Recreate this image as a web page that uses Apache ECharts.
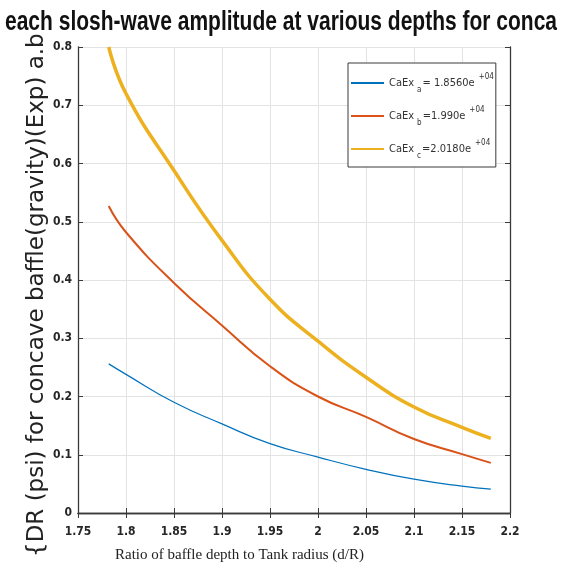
<!DOCTYPE html>
<html>
<head>
<meta charset="utf-8">
<script src="https://cdn.jsdelivr.net/npm/echarts@6/dist/echarts.min.js"></script>
<style>
  html, body { margin: 0; padding: 0; background: #fff; }
  #chart { width: 563px; height: 575px; }
</style>
</head>
<body>
<div id="chart"></div>
<script>
// values
const xVals = [1.782, 1.80, 1.85, 1.90, 1.95, 2.00, 2.05, 2.10, 2.15, 2.18]
const caExA = [0.256, 0.238, 0.190, 0.153, 0.119, 0.096, 0.075, 0.058, 0.046, 0.041]
const caExB = [0.527, 0.482, 0.395, 0.322, 0.252, 0.200, 0.165, 0.127, 0.101, 0.086]
const caExC = [0.800, 0.720, 0.588, 0.468, 0.367, 0.295, 0.233, 0.182, 0.147, 0.128]
const xTickLabels = ['1.75', '1.8', '1.85', '1.9', '1.95', '2', '2.05', '2.1', '2.15', '2.2']
const yTickLabels = ['0', '0.1', '0.2', '0.3', '0.4', '0.5', '0.6', '0.7', '0.8']
const legendNames = ['a', 'b', 'c']
const legendValues = ['= 1.8560e', '=1.990e', '=2.0180e']

const titleText = 'each slosh-wave amplitude at various depths for conca'
const yName = '{DR (psi) for concave baffle(gravity)(Exp) a.b'

const pairs = (ys) => xVals.map((x, i) => [x, ys[i]])

// squeeze a text to a target length (the source uses a condensed face)
const measure = (font, s) => {
  const ctx = document.createElement('canvas').getContext('2d')
  ctx.font = font
  return ctx.measureText(s).width
}
const titleScale = 552 / measure('bold 27px "Liberation Sans"', titleText)

const chart = echarts.init(document.getElementById('chart'))

const tickFont = {
  fontFamily: 'DejaVu Sans Condensed',
  fontWeight: 'bold',
  fontSize: 12,
  color: '#262626'
}
const boxAxis = {
  axisLine: { show: true, lineStyle: { color: '#3a3a3a', width: 1.3 } },
  axisTick: { show: true, inside: true, length: 5, lineStyle: { color: '#3a3a3a' } },
}
const legendFont = 'DejaVu Sans Condensed'

const option = {
  animation: false,
  backgroundColor: '#fff',
  grid: { left: 78, top: 47, right: 53, bottom: 62 },
  xAxis: [
    {
      type: 'value', min: 1.75, max: 2.2, interval: 0.05,
      ...boxAxis,
      splitLine: { show: true, lineStyle: { color: '#e3e3e3' } },
      axisLabel: {
        ...tickFont, margin: 13,
        formatter: v => xTickLabels[Math.round((v - 1.75) / 0.05)]
      }
    },
    {
      type: 'value', min: 1.75, max: 2.2, interval: 0.05, position: 'top',
      ...boxAxis,
      splitLine: { show: false },
      axisLabel: { show: false }
    }
  ],
  yAxis: [
    {
      type: 'value', min: 0, max: 0.8, interval: 0.1,
      ...boxAxis,
      splitLine: { show: true, lineStyle: { color: '#e3e3e3' } },
      axisLabel: {
        ...tickFont, margin: 6,
        formatter: v => yTickLabels[Math.round(v / 0.1)]
      }
    },
    {
      type: 'value', min: 0, max: 0.8, interval: 0.1, position: 'right',
      ...boxAxis,
      splitLine: { show: false },
      axisLabel: { show: false }
    }
  ],
  legend: {
    orient: 'vertical',
    left: 348, top: 63,
    padding: [10, 2, 7, 2],
    itemWidth: 33, itemHeight: 12,
    itemGap: 12,
    backgroundColor: '#fff',
    borderColor: '#3a3a3a', borderWidth: 1, borderRadius: 0,
    itemStyle: { opacity: 0 },
    data: legendNames,
    formatter: name => {
      const i = legendNames.indexOf(name)
      return '{t|CaEx}{sub|' + name + '}{t|' + legendValues[i] + '}{sup|+04}'
    },
    textStyle: {
      fontFamily: legendFont,
      fontSize: 11,
      color: '#333',
      rich: {
        t: { fontFamily: legendFont, fontSize: 11, color: '#333', height: 21 },
        sub: { fontFamily: legendFont, fontSize: 8, color: '#333', padding: [14, 1, 0, 3] },
        sup: { fontFamily: legendFont, fontSize: 8, color: '#333', padding: [0, 0, 12, 4] }
      }
    }
  },
  series: [
    {
      name: 'a', type: 'line', smooth: true, symbol: 'none',
      data: pairs(caExA), color: '#0072BD',
      lineStyle: { width: 1.2 }
    },
    {
      name: 'b', type: 'line', smooth: true, symbol: 'none',
      data: pairs(caExB), color: '#D95319',
      lineStyle: { width: 2 }
    },
    {
      name: 'c', type: 'line', smooth: true, symbol: 'none',
      data: pairs(caExC), color: '#EDB120',
      lineStyle: { width: 3.5 }
    }
  ],
  graphic: [
    {
      type: 'text', x: 5, y: 23, scaleX: titleScale,
      style: {
        text: titleText,
        fontFamily: 'Liberation Sans', fontWeight: 'bold', fontSize: 27,
        fill: '#111', verticalAlign: 'middle'
      }
    },
    {
      type: 'text', x: 26, y: 557, rotation: Math.PI / 2,
      style: {
        text: yName,
        fontFamily: 'DejaVu Sans', fontSize: 23, fill: '#222',
        verticalAlign: 'top'
      }
    },
    {
      type: 'text', left: 115, top: 548,
      style: {
        text: 'Ratio of baffle depth to Tank radius (d/R)',
        fontFamily: 'Liberation Serif', fontSize: 15, fill: '#222'
      }
    }
  ]
}
chart.setOption(option)
</script>
</body>
</html>
